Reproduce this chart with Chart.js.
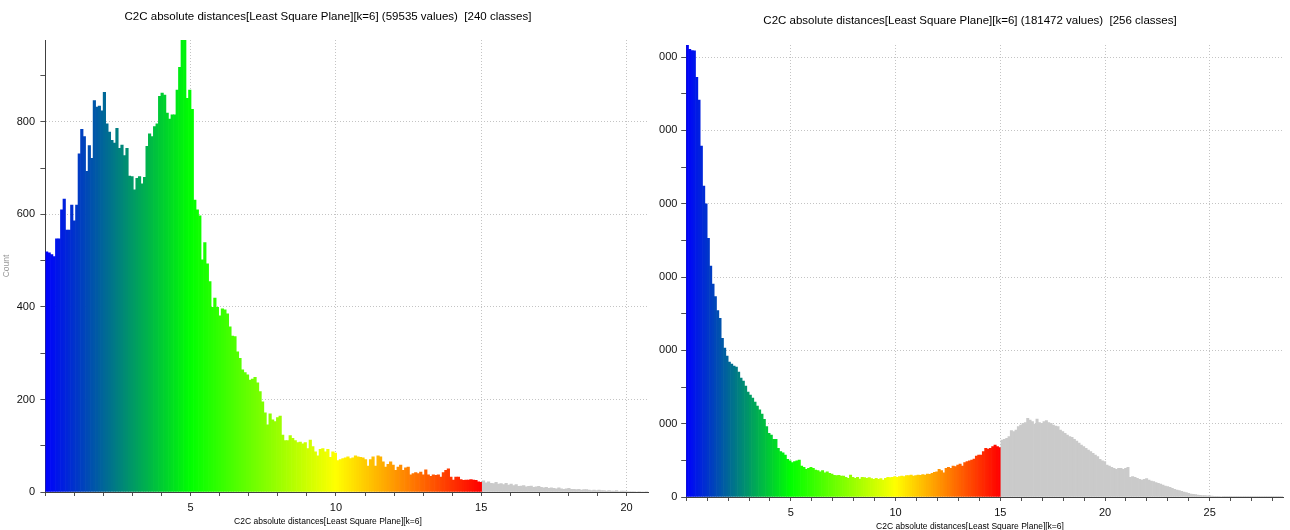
<!DOCTYPE html>
<html>
<head>
<meta charset="utf-8">
<script src="https://cdn.jsdelivr.net/npm/chart.js@4.4.1/dist/chart.umd.min.js"></script>
<style>
  html, body { margin: 0; padding: 0; background: #fff; }
  body { width: 1290px; height: 530px; position: relative; overflow: hidden; }
  .box { position: absolute; top: 0; }
  .clip { position: absolute; top: 0; overflow: hidden; }
</style>
</head>
<body>
<div class="box" style="left:0;width:656px;height:530px"><canvas id="leftHist"></canvas></div>
<div class="clip" style="left:659px;width:631px;height:530px">
  <div class="box" style="left:-9px;width:640px;height:534px"><canvas id="rightHist"></canvas></div>
</div>
<script>
// ---- left histogram: 240 classes over [0, 20.74]
const LEFT_TITLE = 'C2C absolute distances[Least Square Plane][k=6] (59535 values)  [240 classes]';
const LEFT_RANGE = [0, 20.74];
const LEFT_COUNTS = [
  519, 517, 513, 509, 547, 547, 610, 633, 566, 566,
  620, 586, 620, 731, 784, 768, 693, 749, 721, 846,
  832, 834, 824, 864, 796, 778, 760, 754, 786, 743,
  750, 727, 743, 683, 682, 653, 678, 682, 666, 680,
  747, 774, 768, 790, 796, 855, 862, 858, 819, 806,
  815, 815, 869, 918, 977, 977, 851, 869, 827,
  631, 610, 597, 502, 539, 493, 455, 399, 419, 399,
  381, 396, 394, 385, 357, 337, 336, 303, 289, 264,
  258, 253, 242, 244, 248, 236, 217, 195, 171, 145,
  169, 156, 152, 161, 164, 123, 111, 111, 122, 116,
  111, 107, 108, 104, 107, 94, 112, 98, 87, 78,
  92, 94, 87, 92, 75, 87, 84, 68, 70, 72,
  74, 76, 72, 74, 78, 76, 75, 74, 70, 56,
  70, 76, 56, 78, 76, 65, 54, 60, 65, 58,
  47, 54, 58, 47, 52, 54, 37, 40, 42, 40,
  43, 37, 48, 37, 34, 37, 36, 37, 32, 42,
  47, 50, 32, 26, 32, 32, 27, 25, 26, 26,
  27, 26, 25, 22, 21,
  24, 20, 22, 19, 18, 21, 17, 18, 16, 19, 15, 17,
  14, 16, 12, 13, 14, 11, 12, 13, 10, 11, 12, 10,
  9, 10, 8, 9, 8, 7, 9, 7, 6, 7, 8, 6,
  6, 5, 6, 4, 5, 5, 4, 3, 4, 3, 4, 3,
  3, 2, 3, 2, 2, 3, 1, 2, 2, 1, 1, 1,
  1, 0, 1, 0, 0, 1
];

// ---- right histogram: 256 classes over [0, 28.5]
const RIGHT_TITLE = 'C2C absolute distances[Least Square Plane][k=6] (181472 values)  [256 classes]';
const RIGHT_RANGE = [0, 28.5];
const RIGHT_COUNTS = [
  6165, 6106, 6090, 6085, 5724, 5415, 4788, 4242, 3997, 3529,
  3151, 2905, 2732, 2541, 2437, 2165,
  2032, 1923, 1841, 1814, 1787, 1773, 1705, 1623, 1582, 1514,
  1432, 1391, 1350, 1296, 1241, 1190, 1130,
  1060, 959, 869, 846, 787, 787, 664, 618, 604, 573,
  514, 495, 468, 482, 495, 505, 423, 405, 378, 391,
  405, 391, 368, 359, 345, 359, 331, 345, 323, 314,
  296, 291, 296, 286, 286, 268, 255, 300, 268, 255,
  268, 245, 268, 264, 255, 264, 250, 241, 255, 241,
  250, 232, 255, 268, 264, 268, 277, 268, 277, 286,
  277, 291, 291, 300, 286, 291, 300, 296, 305, 300,
  314, 309, 323, 336, 345, 378, 359, 331, 391, 405,
  391, 423, 414, 436, 450, 423, 468, 482, 495, 505,
  518, 559, 573, 573, 618, 664, 655, 664, 686, 709,
  686, 673,
  777, 787, 800, 823, 905, 891, 914, 959, 982, 1005,
  1014, 1073, 1050, 1027, 996, 1064, 1014, 1005, 1027, 1041,
  1014, 1005, 982, 968, 959, 914, 891, 869, 846, 823,
  814, 787, 764, 737, 709, 686, 664, 641, 618, 596,
  573, 550, 514, 495, 482, 436, 423, 405, 391, 378,
  391, 391, 378, 391, 405, 268, 277, 268, 255, 241,
  232, 241, 250, 232, 218, 209, 195, 186, 177, 164,
  150, 141, 132, 118, 105, 95, 86, 77, 68, 59,
  50, 41, 36, 32, 27, 23, 20, 18, 16, 15,
  12, 10, 9, 8, 7, 6, 6,
  5, 5, 5, 4, 4, 4, 4, 3, 3, 3, 3, 3,
  2, 2, 2, 2, 2, 2, 1, 1, 1, 1, 1, 1
];

const X_LABEL = 'C2C absolute distances[Least Square Plane][k=6]';
const X_LABEL_EVERY = 5;

// colour scale: blue > green > yellow > red up to 15, grey above
const SCALE_STOPS = [0, 5, 10, 15];
const SCALE_COLOURS = [[0, 0, 255], [0, 255, 0], [255, 255, 0], [255, 0, 0]];
const OUT_OF_RANGE = '#cacaca';

const FONT = "'Liberation Sans', Arial, sans-serif";
const GRID = '#c4c4c4';
const TICK = '#505050';
const AXIS = '#404040';

function scaleColour(v) {
  if (v > SCALE_STOPS[SCALE_STOPS.length - 1]) return OUT_OF_RANGE;
  for (let k = 1; k < SCALE_STOPS.length; k++) {
    if (v <= SCALE_STOPS[k]) {
      const t = (v - SCALE_STOPS[k - 1]) / (SCALE_STOPS[k] - SCALE_STOPS[k - 1]);
      const a = SCALE_COLOURS[k - 1], b = SCALE_COLOURS[k];
      const c = a.map((ch, j) => Math.round(ch + (b[j] - ch) * t));
      return `rgb(${c[0]}, ${c[1]}, ${c[2]})`;
    }
  }
  return OUT_OF_RANGE;
}

// regular ticks every `step` (chart.js would otherwise stretch them to fit max)
function everyStep(step) {
  return (scale) => {
    const ticks = [];
    for (let v = Math.ceil(scale.min / step) * step; v <= scale.max + 1e-9; v += step) ticks.push({ value: v });
    scale.ticks = ticks;
  };
}

function histogram(canvas, cfg) {
  const [xMin, xMax] = cfg.range;
  const bin = (xMax - xMin) / cfg.counts.length;
  const points = cfg.counts.map((y, i) => ({ x: xMin + (i + 0.5) * bin, y }));

  return new Chart(canvas, {
    type: 'bar',
    data: {
      datasets: [{
        data: points,
        backgroundColor: points.map((p) => scaleColour(p.x)),
        borderWidth: 0,
        barPercentage: 1,
        categoryPercentage: 1,
      }],
    },
    options: {
      responsive: true,
      maintainAspectRatio: false,
      animation: false,
      devicePixelRatio: 1,
      layout: { padding: 0 },
      plugins: {
        legend: { display: false },
        tooltip: { enabled: false },
        title: {
          display: true,
          text: cfg.title,
          color: '#000',
          font: { family: FONT, size: 11.5, weight: 'normal' },
          padding: { top: cfg.titlePad[0], bottom: cfg.titlePad[1] },
        },
        subtitle: {
          display: true,
          position: 'bottom',
          text: X_LABEL,
          color: '#000',
          font: { family: FONT, size: 8.5, weight: 'normal' },
          padding: { top: 0, bottom: cfg.labelPad },
        },
      },
      scales: {
        x: {
          type: 'linear',
          min: xMin,
          max: xMax,
          offset: false,
          afterBuildTicks: everyStep(1),
          grid: {
            offset: false,
            color: (ctx) => (ctx.tick && ctx.tick.value > 0 && ctx.tick.value % X_LABEL_EVERY === 0) ? GRID : 'transparent',
            tickColor: TICK,
            tickLength: 4,
          },
          border: { color: AXIS, dash: [1, 2] },
          ticks: {
            autoSkip: false,
            maxRotation: 0,
            padding: 5,
            color: '#111',
            font: { family: FONT, size: 11 },
            callback: (v) => (v > 0 && v % X_LABEL_EVERY === 0) ? v : '',
          },
          afterFit: (s) => { s.height = cfg.xAxisHeight; },
        },
        y: {
          min: 0,
          max: Math.max(...cfg.counts),
          afterBuildTicks: everyStep(cfg.yStep),
          grid: {
            color: (ctx) => (ctx.tick && ctx.tick.value > 0 && ctx.tick.value % cfg.yLabelEvery === 0) ? GRID : 'transparent',
            tickColor: TICK,
            tickLength: 5,
          },
          border: { color: AXIS, dash: [1, 2] },
          ticks: {
            autoSkip: false,
            padding: cfg.yTickPad,
            color: '#111',
            font: { family: FONT, size: 11 },
            callback: (v) => (v % cfg.yLabelEvery === 0) ? v : '',
          },
          title: {
            display: !!cfg.yTitle,
            text: cfg.yTitle || '',
            color: '#999',
            font: { family: FONT, size: 8.5 },
            padding: { top: 2, bottom: 0 },
          },
          afterFit: (s) => { s.width = cfg.yAxisWidth; },
        },
        // empty right-hand spacer so the titles stay centred on the widget
        spacer: {
          type: 'linear',
          position: 'right',
          display: true,
          grid: { display: false },
          border: { display: false },
          ticks: { display: false },
          afterFit: (s) => { s.width = cfg.rightPad; },
        },
      },
    },
  });
}

histogram(document.getElementById('leftHist'), {
  title: LEFT_TITLE,
  range: LEFT_RANGE,
  counts: LEFT_COUNTS,
  yStep: 100,
  yLabelEvery: 200,
  yTitle: 'Count',
  yAxisWidth: 45.4,
  yTickPad: 5.4,
  rightPad: 8,
  xAxisHeight: 24.4,
  titlePad: [10.1, 16.1],
  labelPad: 3.4,
});

histogram(document.getElementById('rightHist'), {
  title: RIGHT_TITLE,
  range: RIGHT_RANGE,
  counts: RIGHT_COUNTS,
  yStep: 500,
  yLabelEvery: 1000,
  yTitle: null,
  yAxisWidth: 36.2,
  yTickPad: 3.8,
  rightPad: 7,
  xAxisHeight: 24.4,
  titlePad: [14.1, 17.1],
  labelPad: 2.4,
});
</script>
</body>
</html>
